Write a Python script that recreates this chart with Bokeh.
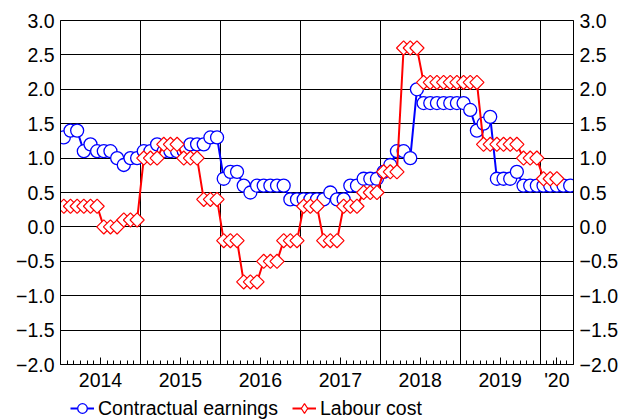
import numpy as np
from bokeh.plotting import figure
from bokeh.layouts import column
from bokeh.models import (Range1d, FixedTicker, LinearAxis, Legend, LegendItem,
                          CustomJSTickFormatter)
from bokeh.embed import file_html
from bokeh.resources import INLINE

# ---------------- data (monthly, Jan 2014 .. May 2020) ----------------
year_labels = ["2014", "2015", "2016", "2017", "2018", "2019", "'20"]
y_ticks = [-2.0, -1.5, -1.0, -0.5, 0.0, 0.5, 1.0, 1.5, 2.0, 2.5, 3.0]

contractual_earnings = [
    1.3, 1.4, 1.4, 1.1, 1.2, 1.1, 1.1, 1.1, 1.0, 0.9, 1.0, 1.0,   # 2014
    1.1, 1.1, 1.2, 1.1, 1.1, 1.1, 1.1, 1.2, 1.2, 1.2, 1.3, 1.3,   # 2015
    0.7, 0.8, 0.8, 0.6, 0.5, 0.6, 0.6, 0.6, 0.6, 0.6, 0.4, 0.4,   # 2016
    0.4, 0.4, 0.4, 0.4, 0.5, 0.4, 0.4, 0.6, 0.6, 0.7, 0.7, 0.7,   # 2017
    0.8, 0.9, 1.1, 1.1, 1.0, 2.0, 1.8, 1.8, 1.8, 1.8, 1.8, 1.8,   # 2018
    1.8, 1.7, 1.4, 1.5, 1.6, 0.7, 0.7, 0.7, 0.8, 0.6, 0.6, 0.6,   # 2019
    0.6, 0.6, 0.6, 0.6, 0.6,                                      # 2020
]

labour_cost = [
    0.3, 0.3, 0.3, 0.3, 0.3, 0.3, 0.0, 0.0, 0.0, 0.1, 0.1, 0.1,        # 2014
    1.0, 1.0, 1.0, 1.2, 1.2, 1.2, 1.0, 1.0, 1.0, 0.4, 0.4, 0.4,        # 2015
    -0.2, -0.2, -0.2, -0.8, -0.8, -0.8, -0.5, -0.5, -0.5, -0.2, -0.2, -0.2,  # 2016
    0.3, 0.3, 0.3, -0.2, -0.2, -0.2, 0.3, 0.3, 0.3, 0.5, 0.5, 0.5,     # 2017
    0.8, 0.8, 0.8, 2.6, 2.6, 2.6, 2.1, 2.1, 2.1, 2.1, 2.1, 2.1,        # 2018
    2.1, 2.1, 2.1, 1.2, 1.2, 1.2, 1.2, 1.2, 1.2, 1.0, 1.0, 1.0,        # 2019
    0.7, 0.7, 0.7,                                                     # 2020
]

series_names = ["Contractual earnings", "Labour cost"]

# ---------------- derived positions ----------------
n_months = len(contractual_earnings)
x_ce = np.arange(n_months) + 0.5                 # mid-month positions
x_lc = np.arange(len(labour_cost)) + 0.5

year_bounds = list(range(12, n_months, 12))       # vertical grid at year starts
label_pos = []
for k in range(len(year_labels)):
    start = 12 * k
    end = min(12 * (k + 1), n_months)
    label_pos.append((start + end) / 2)

FONT = "Liberation Sans"
FS = "19.5px"
BLUE = "#0000FF"
RED = "#FF0000"
W = 620

p = figure(width=W, height=396, output_backend="svg", toolbar_location=None,
           x_range=Range1d(0, n_months), y_range=Range1d(y_ticks[0], y_ticks[-1]),
           min_border_left=60, min_border_right=47, min_border_top=20,
           min_border_bottom=32)
p.background_fill_color = "white"
p.border_fill_color = "white"
p.outline_line_color = "black"
p.outline_line_width = 1

# grids
p.xgrid.ticker = FixedTicker(ticks=year_bounds)
p.xgrid.grid_line_color = "black"
p.xgrid.grid_line_width = 1
p.ygrid.ticker = FixedTicker(ticks=y_ticks)
p.ygrid.grid_line_color = "black"
p.ygrid.grid_line_width = 1

# x axis
xa = p.xaxis[0]
xa.ticker = FixedTicker(ticks=label_pos, minor_ticks=list(range(1, n_months)))
xa.formatter = CustomJSTickFormatter(
    args=dict(pos=label_pos, labels=year_labels),
    code="const i = pos.indexOf(tick); return i >= 0 ? labels[i] : '';")
xa.axis_line_color = "black"
xa.major_tick_line_color = "black"
xa.minor_tick_line_color = "black"
xa.major_tick_in = 7
xa.major_tick_out = 0
xa.minor_tick_in = 4
xa.minor_tick_out = 0
xa.major_label_standoff = 4
xa.major_label_text_font = FONT
xa.major_label_text_font_size = FS
xa.major_label_text_color = "black"

yfmt = "return tick.toFixed(1).replace('-', '\\u2212');"

def style_y(ax):
    ax.ticker = FixedTicker(ticks=y_ticks)
    ax.formatter = CustomJSTickFormatter(code=yfmt)
    ax.axis_line_color = "black"
    ax.major_tick_line_color = None
    ax.minor_tick_line_color = None
    ax.major_tick_in = 0
    ax.major_tick_out = 0
    ax.major_label_standoff = 6
    ax.major_label_text_font = FONT
    ax.major_label_text_font_size = FS
    ax.major_label_text_color = "black"

style_y(p.yaxis[0])
ry = LinearAxis()
style_y(ry)
p.add_layout(ry, "right")

# series
p.line(x_ce, contractual_earnings, line_color=BLUE, line_width=2)
p.scatter(x_ce, contractual_earnings, marker="circle", size=13,
          line_color=BLUE, line_width=1.3, fill_color="white")
p.line(x_lc, labour_cost, line_color=RED, line_width=2)
p.scatter(x_lc, labour_cost, marker="square", angle=np.pi / 4, size=10,
          line_color=RED, line_width=1.2, fill_color="white")

# ---------------- legend strip below the chart ----------------
lf = figure(width=W, height=24, output_backend="svg", toolbar_location=None,
            x_range=Range1d(0, 1), y_range=Range1d(0, 1),
            x_axis_type=None, y_axis_type=None,
            min_border_left=0, min_border_right=0, min_border_top=0,
            min_border_bottom=0)
lf.grid.visible = False
lf.outline_line_color = None
lf.background_fill_color = "white"
lf.border_fill_color = "white"

# legend-only renderers (a single undefined point each, nothing is drawn)
nan = [np.nan]
e_line = lf.line(nan, nan, line_color=BLUE, line_width=2)
e_mark = lf.scatter(nan, nan, marker="circle", line_color=BLUE, line_width=1.3,
                    fill_color="white")
c_line = lf.line(nan, nan, line_color=RED, line_width=2)
c_mark = lf.scatter(nan, nan, marker="diamond", line_color=RED, line_width=1.2,
                    fill_color="white")

legend = Legend(items=[LegendItem(label=series_names[0], renderers=[e_line, e_mark]),
                       LegendItem(label=series_names[1], renderers=[c_line, c_mark])],
                orientation="horizontal", location=(10, 0),
                glyph_width=24, glyph_height=24, label_standoff=4, spacing=14,
                padding=0, margin=0, border_line_color=None,
                background_fill_alpha=0,
                label_text_font=FONT, label_text_font_size=FS,
                label_text_color="black")
lf.add_layout(legend, "center")

layout = column(p, lf, spacing=0)
open("out.html", "w", encoding="utf-8").write(file_html(layout, INLINE))
